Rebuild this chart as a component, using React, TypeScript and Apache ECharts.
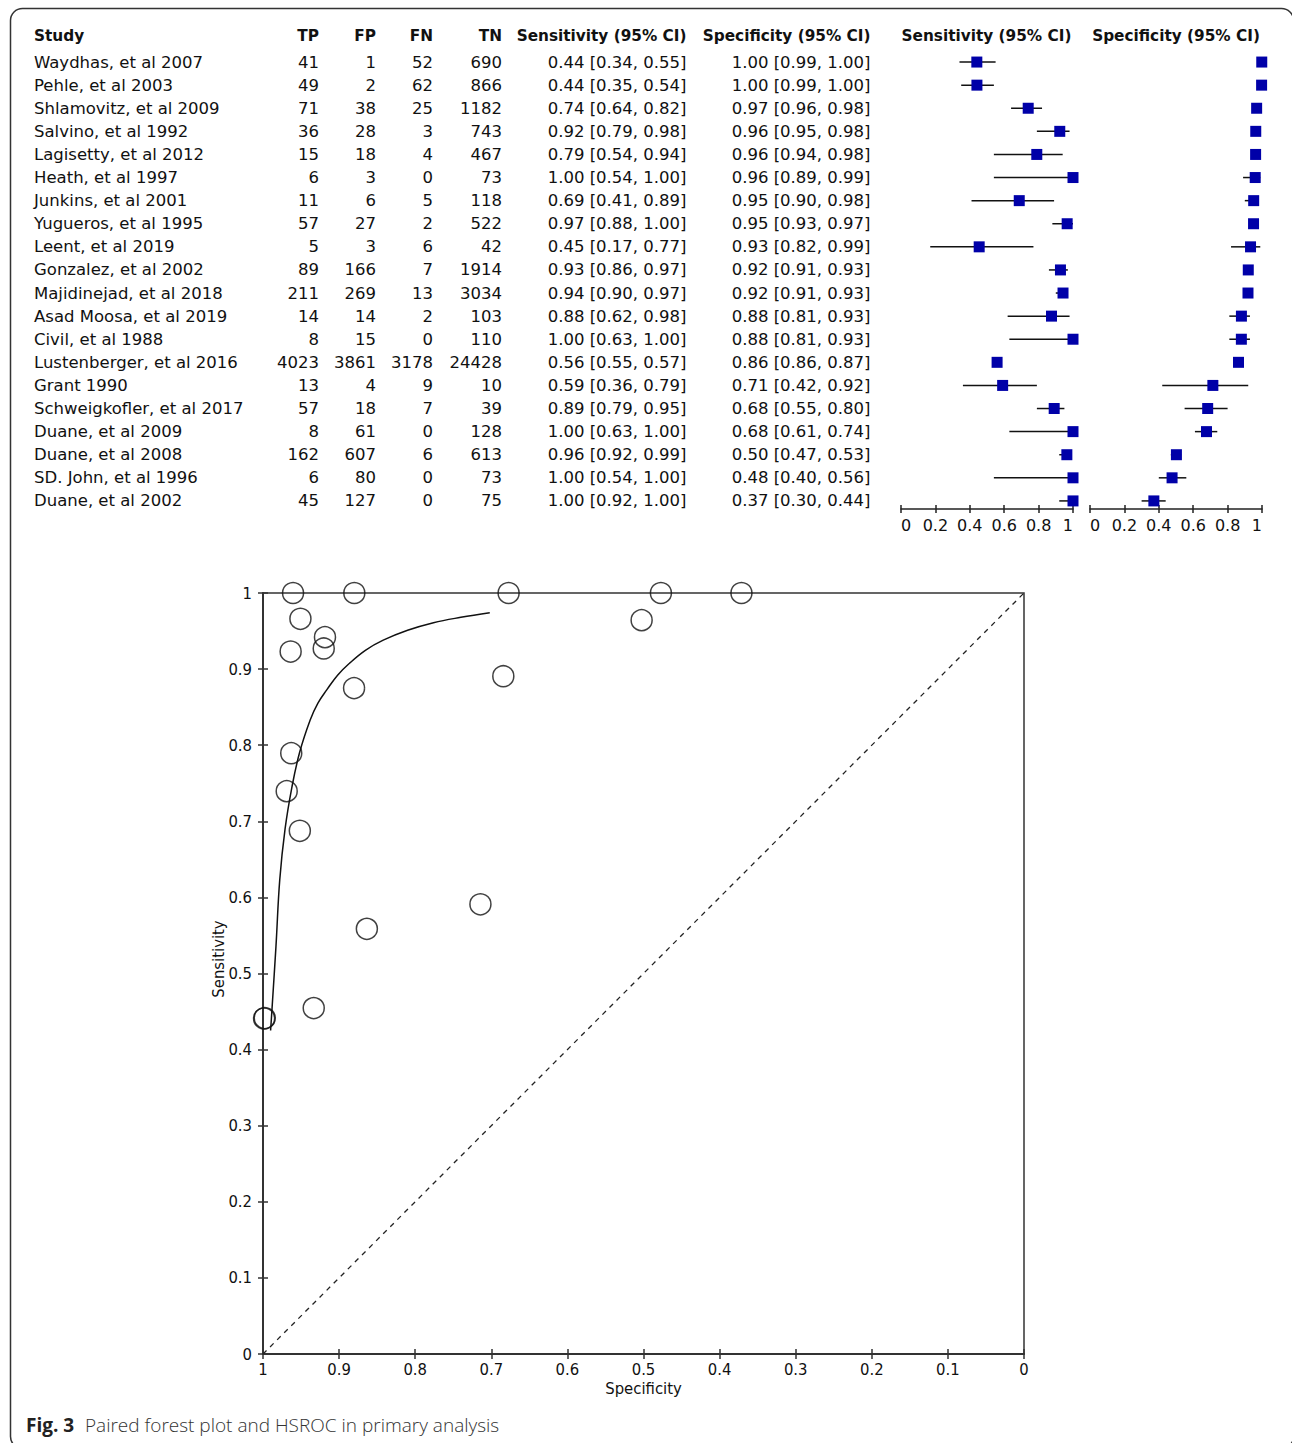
import React, { useEffect, useRef } from "react";
import * as echarts from "echarts";

const studies = [
  "Waydhas, et al 2007", "Pehle, et al 2003", "Shlamovitz, et al 2009", "Salvino, et al 1992",
  "Lagisetty, et al 2012", "Heath, et al 1997", "Junkins, et al 2001", "Yugueros, et al 1995",
  "Leent, et al 2019", "Gonzalez, et al 2002", "Majidinejad, et al 2018", "Asad Moosa, et al 2019",
  "Civil, et al 1988", "Lustenberger, et al 2016", "Grant 1990", "Schweigkofler, et al 2017",
  "Duane, et al 2009", "Duane, et al 2008", "SD. John, et al 1996", "Duane, et al 2002",
];
const TP = [41, 49, 71, 36, 15, 6, 11, 57, 5, 89, 211, 14, 8, 4023, 13, 57, 8, 162, 6, 45];
const FP = [1, 2, 38, 28, 18, 3, 6, 27, 3, 166, 269, 14, 15, 3861, 4, 18, 61, 607, 80, 127];
const FN = [52, 62, 25, 3, 4, 0, 5, 2, 6, 7, 13, 2, 0, 3178, 9, 7, 0, 6, 0, 0];
const TN = [690, 866, 1182, 743, 467, 73, 118, 522, 42, 1914, 3034, 103, 110, 24428, 10, 39, 128, 613, 73, 75];
const sensLo = [0.34, 0.35, 0.64, 0.79, 0.54, 0.54, 0.41, 0.88, 0.17, 0.86, 0.90, 0.62, 0.63, 0.55, 0.36, 0.79, 0.63, 0.92, 0.54, 0.92];
const sensHi = [0.55, 0.54, 0.82, 0.98, 0.94, 1.00, 0.89, 1.00, 0.77, 0.97, 0.97, 0.98, 1.00, 0.57, 0.79, 0.95, 1.00, 0.99, 1.00, 1.00];
const specLo = [0.99, 0.99, 0.96, 0.95, 0.94, 0.89, 0.90, 0.93, 0.82, 0.91, 0.91, 0.81, 0.81, 0.86, 0.42, 0.55, 0.61, 0.47, 0.40, 0.30];
const specHi = [1.00, 1.00, 0.98, 0.98, 0.98, 0.99, 0.98, 0.97, 0.99, 0.93, 0.93, 0.93, 0.93, 0.87, 0.92, 0.80, 0.74, 0.53, 0.56, 0.44];

// HSROC summary curve (specificity, sensitivity)
const curveSpec = [0.990, 0.983, 0.978, 0.971, 0.962, 0.952, 0.938, 0.928, 0.916, 0.902, 0.886, 0.865, 0.842, 0.810, 0.776, 0.740, 0.702];
const curveSens = [0.425, 0.535, 0.623, 0.690, 0.745, 0.790, 0.833, 0.855, 0.873, 0.892, 0.908, 0.925, 0.938, 0.951, 0.961, 0.968, 0.974];

const forestTicks = ["0", "0.2", "0.4", "0.6", "0.8", "1"];
const headers = ["Study", "TP", "FP", "FN", "TN", "Sensitivity (95% CI)", "Specificity (95% CI)"];

const sens = TP.map((tp, i) => tp / (tp + FN[i]));
const spec = TN.map((tn, i) => tn / (tn + FP[i]));

const TXT = "#111";
const BODY_FONT = "'DejaVu Sans', Verdana, sans-serif";
const HS_FONT = "'DejaVu Sans Condensed', 'Liberation Sans Narrow', 'Open Sans', sans-serif";
const BLUE = "#0000A8";

const colRight = [319, 376, 433, 502, 686.5, 870.5];

function forestXAxes(gridIndex: number) {
  const base = {
    gridIndex,
    type: "value",
    min: 0,
    max: 1,
    interval: 0.2,
    position: "bottom",
    splitLine: { show: false },
  };
  return [
    {
      ...base,
      axisLine: { show: true, onZero: false, lineStyle: { color: "#222", width: 1.5 } },
      axisTick: { show: true, length: 4, lineStyle: { color: "#222", width: 1.5 } },
      axisLabel: {
        show: true,
        margin: 8,
        fontSize: 16,
        fontFamily: BODY_FONT,
        color: TXT,
        alignMinLabel: "left",
        alignMaxLabel: "right",
        formatter: (v: number) => forestTicks[Math.round(v * 5)] ?? String(v),
      },
    },
    {
      ...base,
      axisLine: { show: false, onZero: false },
      axisTick: { show: true, inside: true, length: 4, lineStyle: { color: "#222", width: 1.5 } },
      axisLabel: { show: false },
    },
  ];
}

function forestSeries(xAxisIndex: number, yAxisIndex: number, est: number[], lo: number[], hi: number[]) {
  return {
    type: "custom",
    xAxisIndex,
    yAxisIndex,
    clip: false,
    silent: true,
    encode: { x: [0, 1, 2], y: 3 },
    data: est.map((e, i) => [e, lo[i], hi[i], i]),
    renderItem: (_p: any, api: any) => {
      const i = api.value(3);
      const p = api.coord([api.value(0), i]);
      const l = api.coord([api.value(1), i]);
      const h = api.coord([api.value(2), i]);
      return {
        type: "group",
        children: [
          {
            type: "line",
            shape: { x1: l[0], y1: l[1], x2: h[0], y2: h[1] },
            style: { stroke: "#111", lineWidth: 1.5 },
          },
          {
            type: "rect",
            shape: { x: p[0] - 5.5, y: p[1] - 5.5, width: 11, height: 11 },
            style: { fill: BLUE },
          },
        ],
      };
    },
  };
}

export default function App() {
  const ref = useRef<HTMLDivElement>(null);
  useEffect(() => {
    if (!ref.current) return;
    const chart = echarts.init(ref.current, undefined, { renderer: "svg" });

    const rowAxis = {
      type: "value",
      min: -0.5,
      max: 19.35,
      inverse: true,
      show: false,
    };

    const hsXBase = {
      gridIndex: 2,
      type: "value",
      min: 0,
      max: 1,
      interval: 0.1,
      inverse: true,
      position: "bottom",
      splitLine: { show: false },
    };
    const hsYBase = {
      gridIndex: 2,
      type: "value",
      min: 0,
      max: 1,
      interval: 0.1,
      position: "left",
      splitLine: { show: false },
    };
    const fmt = (v: number) => (v === 0 || v === 1 ? String(v) : v.toFixed(1));

    const headerEls = [
      { text: headers[0], x: 34, align: "left" },
      { text: headers[1], x: colRight[0], align: "right" },
      { text: headers[2], x: colRight[1], align: "right" },
      { text: headers[3], x: colRight[2], align: "right" },
      { text: headers[4], x: colRight[3], align: "right" },
      { text: headers[5], x: colRight[4], align: "right" },
      { text: headers[6], x: colRight[5], align: "right" },
      { text: headers[5], x: 986.5, align: "center" },
      { text: headers[6], x: 1176, align: "center" },
    ].map((h) => ({
      type: "text",
      x: h.x,
      y: 36,
      silent: true,
      style: {
        text: h.text,
        textAlign: h.align,
        textVerticalAlign: "middle",
        verticalAlign: "middle",
        fill: TXT,
        fontSize: 15.3,
        fontWeight: "bold",
        fontFamily: BODY_FONT,
      },
    }));

    const option: any = {
      animation: false,
      backgroundColor: "#ffffff",
      grid: [
        { left: 901, top: 50.5, width: 172, height: 458.5, outerBoundsMode: "none" },
        { left: 1090, top: 50.5, width: 172, height: 458.5, outerBoundsMode: "none" },
        {
          left: 263,
          top: 593,
          width: 761,
          height: 761,
          show: true,
          borderColor: "#333",
          borderWidth: 1.5,
          backgroundColor: "transparent",
          outerBoundsMode: "none",
        },
      ],
      xAxis: [
        ...forestXAxes(0),
        ...forestXAxes(1),
        {
          ...hsXBase,
          axisLine: { show: true, onZero: false, lineStyle: { color: "#333", width: 2 } },
          axisTick: { show: true, length: 5, lineStyle: { color: "#333", width: 1.5 } },
          axisLabel: { show: true, margin: 7, fontSize: 16.5, fontFamily: HS_FONT, color: TXT, formatter: fmt },
        },
        {
          ...hsXBase,
          axisLine: { show: false, onZero: false },
          axisTick: { show: true, inside: true, length: 5, lineStyle: { color: "#333", width: 1.5 } },
          axisLabel: { show: false },
        },
      ],
      yAxis: [
        { ...rowAxis, gridIndex: 0 },
        { ...rowAxis, gridIndex: 1 },
        {
          ...hsYBase,
          axisLine: { show: true, onZero: false, lineStyle: { color: "#333", width: 2 } },
          axisTick: { show: true, length: 5, lineStyle: { color: "#333", width: 1.5 } },
          axisLabel: { show: true, margin: 11, fontSize: 16.5, fontFamily: HS_FONT, color: TXT, formatter: fmt },
        },
        {
          ...hsYBase,
          axisLine: { show: false, onZero: false },
          axisTick: { show: true, inside: true, length: 5, lineStyle: { color: "#333", width: 1.5 } },
          axisLabel: { show: false },
        },
      ],
      series: [
        {
          type: "custom",
          name: "table",
          xAxisIndex: 0,
          yAxisIndex: 0,
          clip: false,
          silent: true,
          encode: { x: 0, y: 1 },
          data: studies.map((_, i) => [0, i]),
          renderItem: (_p: any, api: any) => {
            const i = api.value(1);
            const y = api.coord([0, i])[1];
            const cells = [
              { t: studies[i], x: 34, a: "left" },
              { t: String(TP[i]), x: colRight[0], a: "right" },
              { t: String(FP[i]), x: colRight[1], a: "right" },
              { t: String(FN[i]), x: colRight[2], a: "right" },
              { t: String(TN[i]), x: colRight[3], a: "right" },
              {
                t: `${sens[i].toFixed(2)} [${sensLo[i].toFixed(2)}, ${sensHi[i].toFixed(2)}]`,
                x: colRight[4],
                a: "right",
              },
              {
                t: `${spec[i].toFixed(2)} [${specLo[i].toFixed(2)}, ${specHi[i].toFixed(2)}]`,
                x: colRight[5],
                a: "right",
              },
            ];
            return {
              type: "group",
              children: cells.map((c) => ({
                type: "text",
                x: c.x,
                y,
                style: {
                  text: c.t,
                  textAlign: c.a,
                  textVerticalAlign: "middle",
                  verticalAlign: "middle",
                  fill: TXT,
                  fontSize: 16.5,
                  fontFamily: BODY_FONT,
                },
              })),
            };
          },
        },
        forestSeries(0, 0, sens, sensLo, sensHi),
        forestSeries(2, 1, spec, specLo, specHi),
        {
          type: "line",
          name: "diagonal",
          xAxisIndex: 4,
          yAxisIndex: 2,
          data: [
            [1, 0],
            [0, 1],
          ],
          symbol: "none",
          silent: true,
          lineStyle: { color: "#222", width: 1.3, type: [5, 5] },
        },
        {
          type: "line",
          name: "HSROC",
          xAxisIndex: 4,
          yAxisIndex: 2,
          data: curveSpec.map((s, i) => [s, curveSens[i]]),
          smooth: 0.4,
          symbol: "none",
          silent: true,
          lineStyle: { color: "#111", width: 1.5 },
        },
        {
          type: "scatter",
          name: "studies",
          xAxisIndex: 4,
          yAxisIndex: 2,
          clip: false,
          silent: true,
          data: spec.map((s, i) => [s, sens[i]]),
          symbol: "circle",
          symbolSize: 21,
          itemStyle: { color: "rgba(0,0,0,0)", borderColor: "#111", borderWidth: 1.5 },
        },
      ],
      graphic: [
        {
          type: "rect",
          silent: true,
          shape: { x: 10.5, y: 8.5, width: 1283, height: 1440, r: 12 },
          style: { fill: "none", stroke: "#333", lineWidth: 1.5 },
        },
        ...headerEls,
        {
          type: "text",
          x: 218.5,
          y: 959,
          rotation: Math.PI / 2,
          silent: true,
          style: {
            text: "Sensitivity",
            textAlign: "center",
            textVerticalAlign: "middle",
            verticalAlign: "middle",
            fill: TXT,
            fontSize: 16.5,
            fontFamily: HS_FONT,
          },
        },
        {
          type: "text",
          x: 643.5,
          y: 1388,
          silent: true,
          style: {
            text: "Specificity",
            textAlign: "center",
            textVerticalAlign: "middle",
            verticalAlign: "middle",
            fill: TXT,
            fontSize: 16.5,
            fontFamily: HS_FONT,
          },
        },
        {
          type: "text",
          x: 26,
          y: 1425,
          silent: true,
          style: {
            text: "Fig. 3",
            textAlign: "left",
            textVerticalAlign: "middle",
            verticalAlign: "middle",
            fill: "#222",
            fontSize: 19,
            fontWeight: "bold",
            fontFamily: "'Open Sans', 'Noto Sans', sans-serif",
          },
        },
        {
          type: "text",
          x: 85,
          y: 1425,
          silent: true,
          style: {
            text: "Paired forest plot and HSROC in primary analysis",
            textAlign: "left",
            textVerticalAlign: "middle",
            verticalAlign: "middle",
            fill: "#333",
            fontSize: 19,
            fontWeight: 300,
            fontFamily: "'Open Sans', 'Noto Sans', sans-serif",
          },
        },
      ],
    };

    chart.setOption(option);
    return () => chart.dispose();
  }, []);

  return (
    <div
      ref={ref}
      style={{ position: "absolute", left: 0, top: 0, width: 1292, height: 1443, background: "#fff" }}
    />
  );
}
